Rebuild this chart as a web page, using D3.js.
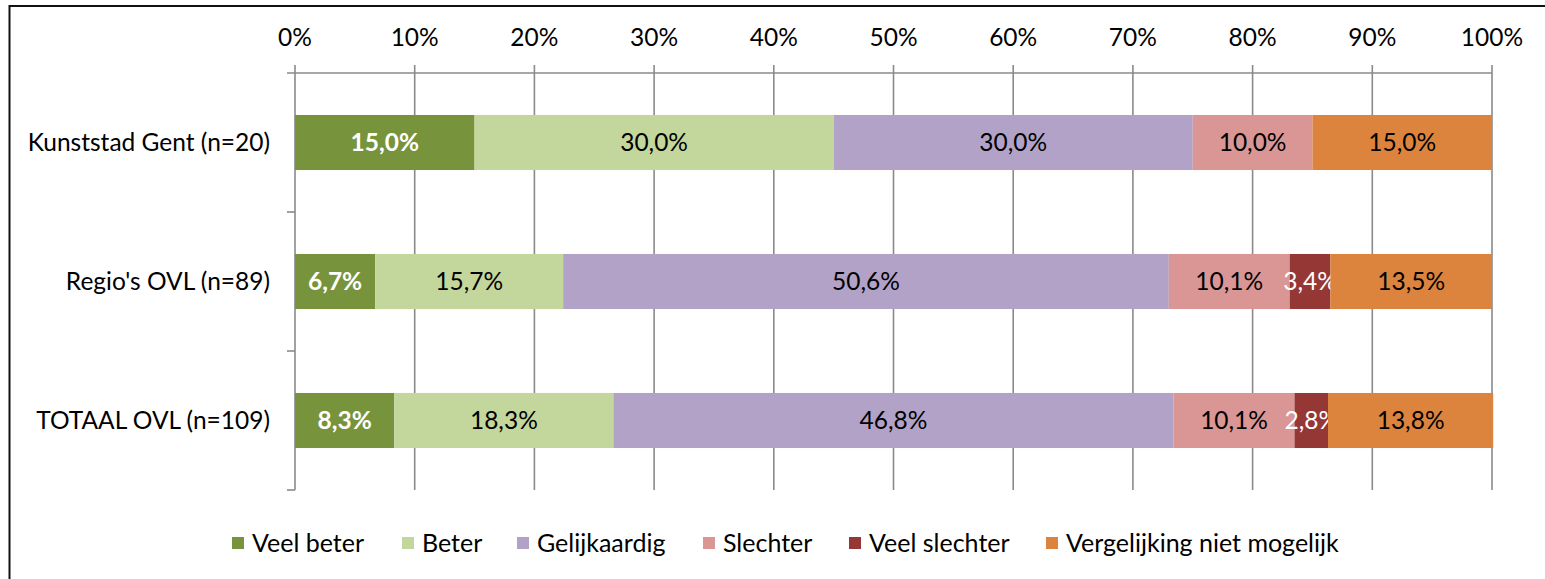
<!DOCTYPE html>
<html><head><meta charset="utf-8">
<script src="https://cdn.jsdelivr.net/npm/d3@7"></script>
<style>
html,body{margin:0;padding:0;background:#fff;}
svg{display:block;}
text{font-family:"Lato","Open Sans",sans-serif;}
</style></head>
<body>
<svg id="chart" width="1545" height="579"></svg>
<script>
const categories = ["Kunststad Gent (n=20)", "Regio's OVL (n=89)", "TOTAAL OVL (n=109)"];
const seriesNames = ["Veel beter", "Beter", "Gelijkaardig", "Slechter", "Veel slechter", "Vergelijking niet mogelijk"];
const veelBeter = [15.0, 6.7, 8.3];
const beter = [30.0, 15.7, 18.3];
const gelijkaardig = [30.0, 50.6, 46.8];
const slechter = [10.0, 10.1, 10.1];
const veelSlechter = [0, 3.4, 2.8];
const nietMogelijk = [15.0, 13.5, 13.8];
const tickLabels = ["0%","10%","20%","30%","40%","50%","60%","70%","80%","90%","100%"];

const seriesValues = [veelBeter, beter, gelijkaardig, slechter, veelSlechter, nietMogelijk];
const colors = ["#77933C", "#C3D69B", "#B3A2C7", "#D99694", "#953735", "#DC843E"];
const labelColors = ["#fff", "#000", "#000", "#000", "#fff", "#000"];
const labelWeights = ["bold", "normal", "normal", "normal", "normal", "normal"];

const svg = d3.select("#chart");
const fs = 24.5;
const lfs = 25;
const gridColor = "#8a8a8a";

// frame
svg.append("rect").attr("x", 9.5).attr("y", 6).attr("width", 1560).attr("height", 600)
  .attr("fill", "none").attr("stroke", "#111").attr("stroke-width", 2);

const x = d3.scaleLinear().domain([0, 100]).range([295, 1492]);
const y = d3.scaleBand().domain(categories).range([73, 490]).paddingInner(0.604).paddingOuter(0.302);

// gridlines + top ticks
const tickVals = d3.range(0, 101, 10);
svg.append("g").selectAll("line").data(tickVals).join("line")
  .attr("x1", d => x(d)).attr("x2", d => x(d))
  .attr("y1", 65).attr("y2", 490)
  .attr("stroke", gridColor).attr("stroke-width", 1.6);

// top axis line
svg.append("line").attr("x1", 287).attr("x2", x(100)).attr("y1", 73).attr("y2", 73)
  .attr("stroke", gridColor).attr("stroke-width", 1.6);

// left category boundary ticks
const bounds = categories.map(c => y(c) + y.bandwidth() + y.step() * y.paddingInner() / 2);
svg.append("g").selectAll("line").data(bounds).join("line")
  .attr("x1", 287).attr("x2", x(0)).attr("y1", d => d).attr("y2", d => d)
  .attr("stroke", gridColor).attr("stroke-width", 1.6);

// tick labels
svg.append("g").selectAll("text").data(tickVals).join("text")
  .attr("x", d => x(d)).attr("y", 46).attr("text-anchor", "middle")
  .attr("font-size", fs).attr("fill", "#000").text((d, i) => tickLabels[i]);

// category labels
svg.append("g").selectAll("text").data(categories).join("text")
  .attr("x", 270).attr("y", d => y(d) + y.bandwidth() / 2 + fs * 0.36)
  .attr("text-anchor", "end").attr("font-size", fs).attr("fill", "#000").text(d => d);

// stack
const rows = categories.map((c, i) => {
  const o = { cat: c };
  seriesNames.forEach((s, j) => o[s] = seriesValues[j][i]);
  return o;
});
const stacked = d3.stack().keys(seriesNames)(rows);

stacked.forEach((layer, j) => {
  const g = svg.append("g");
  const segs = layer.filter(d => d[1] - d[0] > 0);
  g.selectAll("rect").data(segs).join("rect")
    .attr("x", d => x(d[0])).attr("width", d => x(d[1]) - x(d[0]))
    .attr("y", d => y(d.data.cat)).attr("height", y.bandwidth())
    .attr("fill", colors[j]);
  g.selectAll("text").data(segs).join("text")
    .attr("x", d => (x(d[0]) + x(d[1])) / 2)
    .attr("y", d => y(d.data.cat) + y.bandwidth() / 2 + fs * 0.36)
    .attr("text-anchor", "middle").attr("font-size", fs)
    .attr("font-weight", labelWeights[j]).attr("fill", labelColors[j])
    .text(d => (d[1] - d[0]).toFixed(1).replace(".", ",") + "%");
});

// legend
const legendX = [232, 402, 517, 703, 849, 1046];
const lg = svg.append("g");
seriesNames.forEach((s, j) => {
  lg.append("rect").attr("x", legendX[j]).attr("y", 537).attr("width", 12).attr("height", 12).attr("fill", colors[j]);
  lg.append("text").attr("x", legendX[j] + 20).attr("y", 543 + lfs * 0.36)
    .attr("font-size", lfs).attr("fill", "#000").text(s);
});
</script>
</body></html>
